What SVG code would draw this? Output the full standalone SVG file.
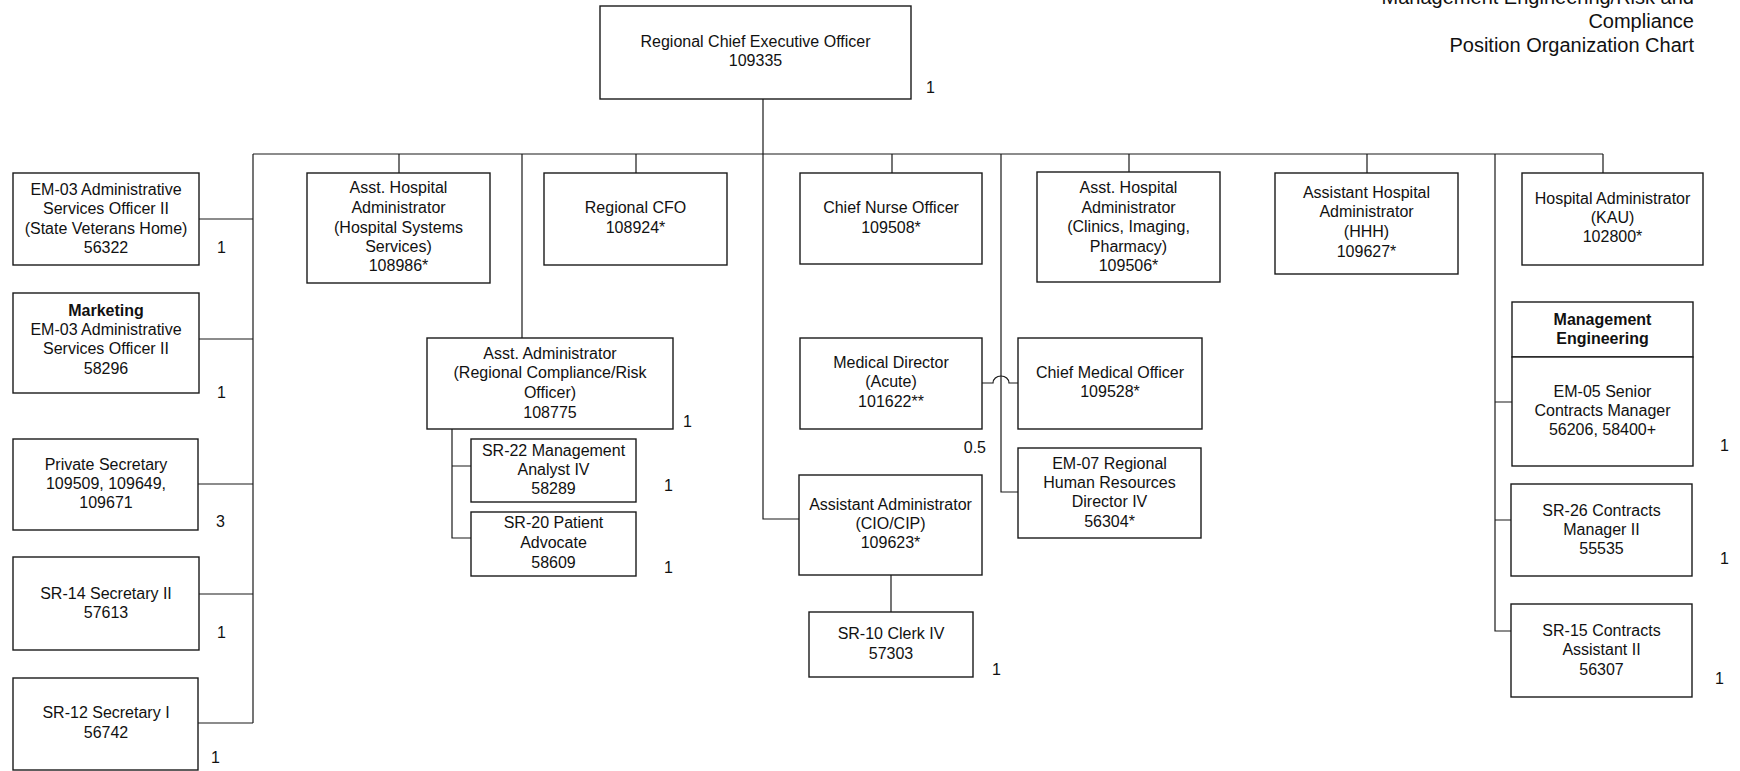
<svg xmlns="http://www.w3.org/2000/svg" width="1740" height="771" viewBox="0 0 1740 771">
<style>
  .box { fill: #ffffff; stroke: #1a1a1a; stroke-width: 1.4; }
  .ln { fill: none; stroke: #1a1a1a; stroke-width: 1.2; }
  text { font-family: "Liberation Sans", Arial, sans-serif; font-size: 16px; fill: #111; }
  .c { text-anchor: middle; }
  .b { font-weight: bold; }
  .title { font-size: 20px; text-anchor: end; }
</style>
<rect x="0" y="0" width="1740" height="771" fill="#ffffff"/>

<g id="title">
  <text class="title" x="1694" y="4">Management Engineering/Risk and</text>
  <text class="title" x="1694" y="28">Compliance</text>
  <text class="title" x="1694" y="52">Position Organization Chart</text>
</g>

<g id="connectors">
  <path class="ln" d="M763 99 V519 H799"/>
  <path class="ln" d="M253 154 H1603"/>
  <path class="ln" d="M253 154 V723"/>
  <path class="ln" d="M199 219 H253 M199 339 H253 M198 484 H253 M199 594 H253 M198 723 H253"/>
  <path class="ln" d="M399 154 V173 M522 154 V338 M636 154 V173 M892 154 V173 M1129 154 V172 M1367 154 V173 M1603 154 V173"/>
  <path class="ln" d="M1001 154 V492 H1018"/>
  <path class="ln" d="M1495 154 V631 H1511 M1495 402 H1512 M1495 520 H1511"/>
  <path class="ln" d="M452 429 V538 H471 M452 466 H471"/>
  <path class="ln" d="M982 383 H993 A8 7 0 0 1 1009 383 H1018"/>
  <path class="ln" d="M891 575 V612"/>
</g>

<g id="ceo">
  <rect class="box" x="600" y="6" width="311" height="93"/>
  <text class="c" x="755.5" y="47">Regional Chief Executive Officer</text>
  <text class="c" x="755.5" y="66">109335</text>
  <text x="926" y="93">1</text>
</g>

<g id="aso-svh">
  <rect class="box" x="13" y="173" width="186" height="92"/>
  <text class="c" x="106" y="195">EM-03 Administrative</text>
  <text class="c" x="106" y="214">Services Officer II</text>
  <text class="c" x="106" y="234">(State Veterans Home)</text>
  <text class="c" x="106" y="253">56322</text>
  <text x="217" y="253">1</text>
</g>

<g id="aso-marketing">
  <rect class="box" x="13" y="293" width="186" height="100"/>
  <text class="c b" x="106" y="316">Marketing</text>
  <text class="c" x="106" y="335">EM-03 Administrative</text>
  <text class="c" x="106" y="354">Services Officer II</text>
  <text class="c" x="106" y="374">58296</text>
  <text x="217" y="398">1</text>
</g>

<g id="private-secretary">
  <rect class="box" x="13" y="439" width="185" height="91"/>
  <text class="c" x="106" y="470">Private Secretary</text>
  <text class="c" x="106" y="489">109509, 109649,</text>
  <text class="c" x="106" y="508">109671</text>
  <text x="216" y="527">3</text>
</g>

<g id="sr14">
  <rect class="box" x="13" y="557" width="186" height="93"/>
  <text class="c" x="106" y="599">SR-14 Secretary II</text>
  <text class="c" x="106" y="618">57613</text>
  <text x="217" y="638">1</text>
</g>

<g id="sr12">
  <rect class="box" x="13" y="678" width="185" height="92"/>
  <text class="c" x="106" y="718">SR-12 Secretary I</text>
  <text class="c" x="106" y="738">56742</text>
  <text x="211" y="763">1</text>
</g>

<g id="aha-hss">
  <rect class="box" x="307" y="173" width="183" height="110"/>
  <text class="c" x="398.5" y="193">Asst. Hospital</text>
  <text class="c" x="398.5" y="213">Administrator</text>
  <text class="c" x="398.5" y="233">(Hospital Systems</text>
  <text class="c" x="398.5" y="252">Services)</text>
  <text class="c" x="398.5" y="271">108986*</text>
</g>

<g id="cfo">
  <rect class="box" x="544" y="173" width="183" height="92"/>
  <text class="c" x="635.5" y="213">Regional CFO</text>
  <text class="c" x="635.5" y="233">108924*</text>
</g>

<g id="compliance">
  <rect class="box" x="427" y="338" width="246" height="91"/>
  <text class="c" x="550" y="359">Asst. Administrator</text>
  <text class="c" x="550" y="378">(Regional Compliance/Risk</text>
  <text class="c" x="550" y="398">Officer)</text>
  <text class="c" x="550" y="418">108775</text>
  <text x="683" y="427">1</text>
</g>

<g id="sr22">
  <rect class="box" x="471" y="439" width="165" height="63"/>
  <text class="c" x="553.5" y="456">SR-22 Management</text>
  <text class="c" x="553.5" y="475">Analyst IV</text>
  <text class="c" x="553.5" y="494">58289</text>
  <text x="664" y="491">1</text>
</g>

<g id="sr20">
  <rect class="box" x="471" y="512" width="165" height="64"/>
  <text class="c" x="553.5" y="528">SR-20 Patient</text>
  <text class="c" x="553.5" y="548">Advocate</text>
  <text class="c" x="553.5" y="568">58609</text>
  <text x="664" y="573">1</text>
</g>

<g id="cno">
  <rect class="box" x="800" y="173" width="182" height="91"/>
  <text class="c" x="891" y="213">Chief Nurse Officer</text>
  <text class="c" x="891" y="233">109508*</text>
</g>

<g id="medical-director">
  <rect class="box" x="800" y="338" width="182" height="91"/>
  <text class="c" x="891" y="368">Medical Director</text>
  <text class="c" x="891" y="387">(Acute)</text>
  <text class="c" x="891" y="407">101622**</text>
  <text x="986" y="453" text-anchor="end">0.5</text>
</g>

<g id="cio">
  <rect class="box" x="799" y="475" width="183" height="100"/>
  <text class="c" x="890.5" y="510">Assistant Administrator</text>
  <text class="c" x="890.5" y="529">(CIO/CIP)</text>
  <text class="c" x="890.5" y="548">109623*</text>
</g>

<g id="clerk">
  <rect class="box" x="809" y="612" width="164" height="65"/>
  <text class="c" x="891" y="639">SR-10 Clerk IV</text>
  <text class="c" x="891" y="659">57303</text>
  <text x="992" y="675">1</text>
</g>

<g id="aha-clinics">
  <rect class="box" x="1037" y="172" width="183" height="110"/>
  <text class="c" x="1128.5" y="193">Asst. Hospital</text>
  <text class="c" x="1128.5" y="213">Administrator</text>
  <text class="c" x="1128.5" y="232">(Clinics, Imaging,</text>
  <text class="c" x="1128.5" y="252">Pharmacy)</text>
  <text class="c" x="1128.5" y="271">109506*</text>
</g>

<g id="cmo">
  <rect class="box" x="1018" y="338" width="184" height="91"/>
  <text class="c" x="1110" y="378">Chief Medical Officer</text>
  <text class="c" x="1110" y="397">109528*</text>
</g>

<g id="hr-director">
  <rect class="box" x="1018" y="448" width="183" height="90"/>
  <text class="c" x="1109.5" y="469">EM-07 Regional</text>
  <text class="c" x="1109.5" y="488">Human Resources</text>
  <text class="c" x="1109.5" y="507">Director IV</text>
  <text class="c" x="1109.5" y="527">56304*</text>
</g>

<g id="aha-hhh">
  <rect class="box" x="1275" y="173" width="183" height="101"/>
  <text class="c" x="1366.5" y="198">Assistant Hospital</text>
  <text class="c" x="1366.5" y="217">Administrator</text>
  <text class="c" x="1366.5" y="237">(HHH)</text>
  <text class="c" x="1366.5" y="257">109627*</text>
</g>

<g id="kau">
  <rect class="box" x="1522" y="173" width="181" height="92"/>
  <text class="c" x="1612.5" y="204">Hospital Administrator</text>
  <text class="c" x="1612.5" y="223">(KAU)</text>
  <text class="c" x="1612.5" y="242">102800*</text>
</g>

<g id="management-engineering">
  <rect class="box" x="1512" y="302" width="181" height="55"/>
  <text class="c b" x="1602.5" y="325">Management</text>
  <text class="c b" x="1602.5" y="344">Engineering</text>
</g>

<g id="em05">
  <rect class="box" x="1512" y="357" width="181" height="109"/>
  <text class="c" x="1602.5" y="397">EM-05 Senior</text>
  <text class="c" x="1602.5" y="416">Contracts Manager</text>
  <text class="c" x="1602.5" y="435">56206, 58400+</text>
  <text x="1720" y="451">1</text>
</g>

<g id="sr26">
  <rect class="box" x="1511" y="484" width="181" height="92"/>
  <text class="c" x="1601.5" y="516">SR-26 Contracts</text>
  <text class="c" x="1601.5" y="535">Manager II</text>
  <text class="c" x="1601.5" y="554">55535</text>
  <text x="1720" y="564">1</text>
</g>

<g id="sr15">
  <rect class="box" x="1511" y="604" width="181" height="93"/>
  <text class="c" x="1601.5" y="636">SR-15 Contracts</text>
  <text class="c" x="1601.5" y="655">Assistant II</text>
  <text class="c" x="1601.5" y="675">56307</text>
  <text x="1715" y="684">1</text>
</g>
</svg>
